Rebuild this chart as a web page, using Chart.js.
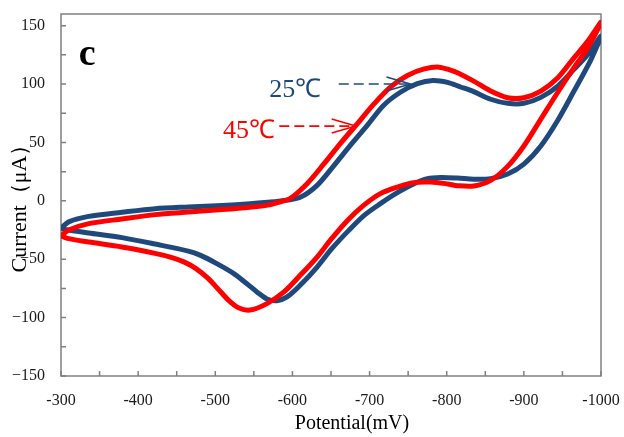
<!DOCTYPE html>
<html>
<head>
<meta charset="utf-8">
<title>Cyclic voltammogram</title>
<script src="https://cdn.jsdelivr.net/npm/chart.js@4/dist/chart.umd.min.js"></script>
<style>
  html, body { margin: 0; padding: 0; background: #ffffff; }
  .chart-box { width: 624px; height: 437px; position: relative; }
</style>
</head>
<body>
<div class="chart-box"><canvas id="cvChart"></canvas></div>
<script>
// Data: one closed loop per temperature,
// forward branch -300 -> -1000 mV, then back to -300 mV
const potential25 = [
  -300, -310, -336, -379, -422, -465, -509, -545, -568, -590, -610, -632, -654, -675, -697,
  -718, -740, -762, -782, -801, -818, -835, -857, -879, -900, -922, -944, -965, -983, -1000,
  -987, -965, -944, -922, -900, -879, -857, -835, -814, -792, -775, -757, -736, -714,
  -693, -673, -651, -632, -610, -593, -580, -567, -554, -541, -524, -502, -481, -465, -422,
  -379, -336, -310, -300
];
const current25 = [
  -23.5, -18, -13.3, -9.8, -6.7, -5.2, -3.9, -2.5, -1.2, 0.4, 3, 13.3, 30.4, 47.5, 64.6,
  81.7, 93, 100.3, 103, 101.4, 97.5, 93.5, 87, 83.5, 83.5, 88.6, 98.3, 112.6, 125.4, 141,
  121, 94, 69, 47, 31.5, 23, 19, 18.5, 19.5, 20, 19, 14.5, 7, -2.4,
  -12.4, -25.3, -41, -56.7, -72.3, -82.3, -85.5, -84, -78, -71, -62.3, -53.8, -46.7, -43, -37,
  -31.5, -27.5, -25, -23.5
];

const potential45 = [
  -300, -310, -336, -379, -422, -465, -509, -545, -568, -583, -597, -619, -641, -662, -684,
  -706, -727, -749, -771, -790, -805, -814, -835, -857, -879, -900, -922, -944, -965, -983, -1000,
  -983, -965, -944, -922, -900, -879, -857, -835, -814, -801, -779,
  -757, -736, -714, -693, -671, -649, -632, -610, -589, -567, -545, -530, -517, -503, -490,
  -475, -460, -444, -422, -379, -336, -310, -300
];
const current45 = [
  -30, -25, -19.5, -15.5, -11.8, -9.6, -7.5, -5.5, -3.7, -1, 2, 14.7, 31.8, 49, 66,
  83.2, 97.4, 107.4, 113, 114.5, 112, 109.7, 102.5, 94, 88.3, 88.3, 94, 105.4, 122.5, 136.8, 153,
  131, 114, 93, 70, 47, 29.5, 17.5, 12.7, 13, 14.5, 16.1,
  15.6, 11.8, 6.2, -3.5, -17, -33.8, -48.1, -63.8, -78, -88, -93.5, -91.5, -85, -75, -66,
  -58, -52.5, -48.6, -45, -39.5, -35.3, -32.4, -30
];

// Axis tick labels
const xTicks = [-300, -400, -500, -600, -700, -800, -900, -1000];
const yTicks = [-150, -100, -50, 0, 50, 100, 150];

const BLUE = '#1f497d';
const RED = '#ff0000';
const FRAME = '#808080';
const SERIF = '"Liberation Serif", "Times New Roman", serif';

function toPoints(xs, ys) {
  return xs.map((x, i) => ({ x: x, y: ys[i] }));
}

// Frame, inward ticks, axis titles and the arrow labels
const decorPlugin = {
  id: 'cvDecor',
  beforeDatasetsDraw(chart) {
    const { ctx, chartArea: area, scales } = chart;
    ctx.save();
    ctx.strokeStyle = FRAME;
    ctx.lineWidth = 1.5;
    ctx.strokeRect(area.left, area.top, area.right - area.left, area.bottom - area.top);

    // major + minor ticks, pointing into the plot
    const tickLen = 5;
    ctx.beginPath();
    for (let i = 0; i < xTicks.length; i++) {
      const vals = [xTicks[i]];
      if (i < xTicks.length - 1) vals.push((xTicks[i] + xTicks[i + 1]) / 2);
      vals.forEach(v => {
        const px = scales.x.getPixelForValue(v);
        ctx.moveTo(px, area.bottom);
        ctx.lineTo(px, area.bottom - tickLen);
      });
    }
    for (let i = 0; i < yTicks.length; i++) {
      const vals = [yTicks[i]];
      if (i < yTicks.length - 1) vals.push((yTicks[i] + yTicks[i + 1]) / 2);
      vals.forEach(v => {
        const py = scales.y.getPixelForValue(v);
        ctx.moveTo(area.left, py);
        ctx.lineTo(area.left + tickLen, py);
      });
    }
    ctx.stroke();
    ctx.restore();
  },
  afterDraw(chart) {
    const { ctx, chartArea: area, scales } = chart;
    const sx = v => scales.x.getPixelForValue(v);
    const sy = v => scales.y.getPixelForValue(v);

    ctx.save();
    ctx.fillStyle = '#000000';
    ctx.textBaseline = 'alphabetic';

    // axis titles
    ctx.font = '20px ' + SERIF;
    ctx.textAlign = 'center';
    ctx.fillText('Potential(mV)', (area.left + area.right) / 2 + 21, 429);

    ctx.save();
    ctx.translate(20, (area.top + area.bottom) / 2 + 8);
    ctx.rotate(-Math.PI / 2);
    ctx.font = '22px ' + SERIF;
    ctx.textBaseline = 'middle';
    ctx.fillText('Current\uff08\u03bcA\uff09', 0, 0);
    ctx.restore();

    // panel letter
    ctx.textAlign = 'left';
    ctx.font = 'bold 38px ' + SERIF;
    ctx.fillText('c', sx(-323), sy(116.6));

    // temperature labels with dashed arrows
    function label(text, color, tx, ty, fromX, toX, ay) {
      ctx.fillStyle = color;
      ctx.strokeStyle = color;
      ctx.font = '26px ' + SERIF;
      ctx.fillText(text, sx(tx), sy(ty));

      const x0 = sx(fromX), x1 = sx(toX), y = sy(ay);
      ctx.lineWidth = 1.6;
      ctx.setLineDash([10, 5]);
      ctx.beginPath();
      ctx.moveTo(x0, y);
      ctx.lineTo(x1 - 2, y);
      ctx.stroke();
      ctx.setLineDash([]);
      ctx.beginPath();
      ctx.moveTo(x1 - 24, y - 7);
      ctx.lineTo(x1, y);
      ctx.lineTo(x1 - 24, y + 7);
      ctx.stroke();
    }
    label('25\u2103', BLUE, -570, 89, -660, -753, 100);
    label('45\u2103', RED, -510, 54, -583, -682, 64);

    ctx.restore();
  }
};

document.addEventListener('DOMContentLoaded', function() {
  const ctx = document.getElementById('cvChart').getContext('2d');

  new Chart(ctx, {
    type: 'scatter',
    data: {
      datasets: [
        {
          label: '45\u2103',
          data: toPoints(potential45, current45),
          showLine: true,
          borderColor: RED,
          backgroundColor: RED,
          borderWidth: 5,
          pointRadius: 0,
          tension: 0.3,
          fill: false
        },
        {
          label: '25\u2103',
          data: toPoints(potential25, current25),
          showLine: true,
          borderColor: BLUE,
          backgroundColor: BLUE,
          borderWidth: 5,
          pointRadius: 0,
          tension: 0.3,
          fill: false
        }
      ]
    },
    options: {
      responsive: true,
      maintainAspectRatio: false,
      animation: false,
      layout: {
        padding: { left: 0, right: 23, top: 14, bottom: 0 }
      },
      plugins: {
        legend: { display: false },
        tooltip: { enabled: false }
      },
      scales: {
        x: {
          type: 'linear',
          reverse: true,
          min: -1000,
          max: -300,
          grid: { display: false, drawTicks: false },
          border: { display: false },
          afterBuildTicks: scale => {
            scale.ticks = xTicks.map(v => ({ value: v }));
          },
          afterFit: scale => {
            scale.height = 61;
            scale.paddingLeft = 0;
            scale.paddingRight = 0;
          },
          ticks: {
            padding: 15,
            maxRotation: 0,
            color: '#1a1a1a',
            font: { family: SERIF, size: 16 },
            callback: v => String(v)
          }
        },
        y: {
          type: 'linear',
          min: -150,
          max: 160,
          grid: { display: false, drawTicks: false },
          border: { display: false },
          afterBuildTicks: scale => {
            scale.ticks = yTicks.map(v => ({ value: v }));
          },
          afterFit: scale => {
            scale.width = 61;
            scale.paddingTop = 0;
            scale.paddingBottom = 0;
          },
          ticks: {
            padding: 16,
            color: '#1a1a1a',
            font: { family: SERIF, size: 16 },
            callback: v => (v < 0 ? '\u2212' + Math.abs(v) : String(v))
          }
        }
      }
    },
    plugins: [decorPlugin]
  });
});
</script>
</body>
</html>
